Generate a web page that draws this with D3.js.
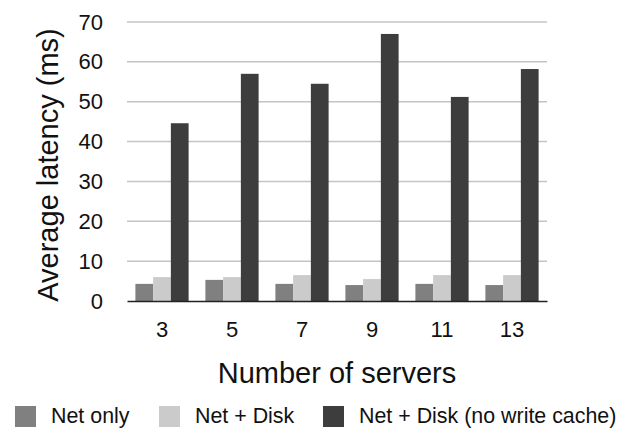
<!DOCTYPE html>
<html>
<head>
<meta charset="utf-8">
<script src="https://cdn.jsdelivr.net/npm/d3@7"></script>
<style>
  html, body { margin: 0; padding: 0; background: #fff; }
  svg { display: block; font-family: "Liberation Sans", Arial, Helvetica, sans-serif; }
</style>
</head>
<body>
<svg id="chart" width="627" height="438"></svg>
<script>
const categories = ["3", "5", "7", "9", "11", "13"];
const seriesNames = ["Net only", "Net + Disk", "Net + Disk (no write cache)"];
const netOnly = [4.3, 5.3, 4.3, 4.0, 4.3, 4.0];
const netDisk = [6.0, 6.0, 6.5, 5.5, 6.5, 6.5];
const netDiskNoCache = [44.6, 57.0, 54.5, 67.0, 51.2, 58.2];
const yTicks = [0, 10, 20, 30, 40, 50, 60, 70];
const colors = ["#808080", "#cacbca", "#3c3d3c"];

const series = [netOnly, netDisk, netDiskNoCache];
const svg = d3.select("#chart");
const m = { left: 127, right: 80, top: 22, bottom: 137 };
const W = 627, H = 438;

const x0 = d3.scaleBand().domain(categories)
  .range([m.left, W - m.right]).paddingInner(0.24).paddingOuter(0.12);
const x1 = d3.scaleBand().domain(d3.range(series.length))
  .range([0, x0.bandwidth()]).padding(0);
const y = d3.scaleLinear().domain([0, 70]).range([H - m.bottom, m.top]);

// gridlines
svg.append("g").selectAll("line").data(yTicks.filter(t => t > 0)).join("line")
  .attr("x1", m.left).attr("x2", W - m.right)
  .attr("y1", d => y(d)).attr("y2", d => y(d))
  .attr("stroke", "#c4c4c4").attr("stroke-width", 1.5);

// y axis labels
const yAxis = d3.axisLeft(y).tickValues(yTicks).tickSize(0).tickPadding(24);
svg.append("g").attr("transform", `translate(${m.left},0)`).call(yAxis)
  .call(g => g.select(".domain").remove())
  .call(g => g.selectAll("text").attr("font-size", 22).attr("fill", "#111")
    .attr("font-family", "'Liberation Sans', Arial, sans-serif"));

// bars
const groups = svg.append("g").selectAll("g").data(categories).join("g")
  .attr("transform", d => `translate(${x0(d)},0)`);
groups.selectAll("rect").data((d, i) => series.map((s, j) => ({ j, v: s[i] }))).join("rect")
  .attr("x", d => x1(d.j)).attr("width", x1.bandwidth())
  .attr("y", d => y(d.v)).attr("height", d => y(0) - y(d.v))
  .attr("fill", d => colors[d.j]);

// x axis
const xAxis = d3.axisBottom(x0).tickSize(0).tickPadding(20);
svg.append("g").attr("transform", `translate(0,${y(0)})`).call(xAxis)
  .call(g => g.select(".domain").attr("stroke", "#222").attr("stroke-width", 1.6))
  .call(g => g.selectAll("text").attr("font-size", 22).attr("fill", "#111")
    .attr("font-family", "'Liberation Sans', Arial, sans-serif"));

// axis titles
svg.append("text").attr("x", 337).attr("y", 383).attr("text-anchor", "middle")
  .attr("font-size", 29).attr("fill", "#111").text("Number of servers");
svg.append("text").attr("transform", "translate(58,165) rotate(-90)")
  .attr("text-anchor", "middle").attr("font-size", 29).attr("fill", "#111")
  .text("Average latency (ms)");

// legend
const legendX = [15, 159, 323];
const lg = svg.append("g").selectAll("g").data(seriesNames).join("g")
  .attr("transform", (d, i) => `translate(${legendX[i]},406)`);
lg.append("rect").attr("width", 21).attr("height", 21).attr("fill", (d, i) => colors[i]);
lg.append("text").attr("x", 36).attr("y", 17).attr("font-size", 21.4).attr("fill", "#111")
  .text(d => d);
</script>
</body>
</html>
